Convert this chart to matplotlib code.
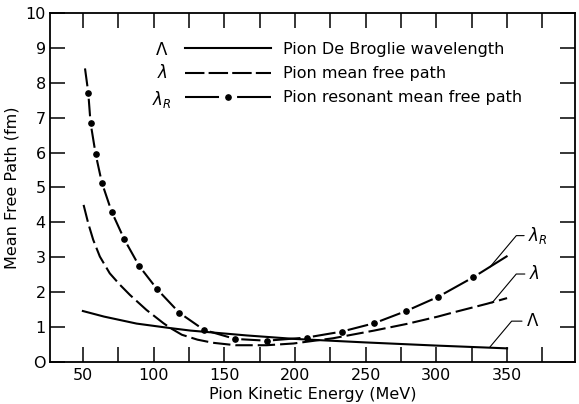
import matplotlib
matplotlib.use('Agg')
import matplotlib.pyplot as plt
from matplotlib.lines import Line2D

# values (MeV, fm)
energy_db = [50, 65, 88, 112, 126, 166, 200, 250, 300, 350]
wavelength_db = [1.46, 1.30, 1.10, 0.97, 0.90, 0.76, 0.66, 0.56, 0.47, 0.39]

energy_mfp = [50.5, 53.8, 57.3, 62, 69, 76, 83.3, 95, 107, 112, 120, 131, 142, 158, 180, 199,
              227, 256, 279, 301, 312, 336, 350]
mfp = [4.50, 3.97, 3.50, 3.02, 2.54, 2.22, 1.92, 1.49, 1.11, 0.97, 0.78, 0.64, 0.55, 0.48, 0.48, 0.53,
       0.68, 0.90, 1.09, 1.30, 1.42, 1.67, 1.83]

# resonant mfp: first and last are line ends, the rest are the dots
energy_res = [51.5, 53.8, 55.4, 59.0, 63.4, 70.3, 79.2, 89.8, 102.6, 118.2, 135.6, 157.6, 180, 208.3, 233, 256, 278.6, 301.4, 326.2, 350.3]
mfp_res = [8.41, 7.72, 6.86, 5.96, 5.14, 4.31, 3.52, 2.75, 2.08, 1.41, 0.92, 0.66, 0.61, 0.70, 0.87, 1.11, 1.46, 1.87, 2.43, 3.04]

xticks = [50, 100, 150, 200, 250, 300, 350]
yticks = list(range(0, 11))

plt.rcParams['font.family'] = 'DejaVu Sans'
plt.rcParams['lines.scale_dashes'] = False

fig = plt.figure(figsize=(5.79, 4.04), dpi=100)
ax = fig.add_axes([0.086, 0.104, 0.907, 0.864])

lw = 1.5
ax.plot(energy_db, wavelength_db, color='black', lw=lw)
ax.plot(energy_mfp, mfp, color='black', lw=lw, ls=(0, (12.5, 3.6)))

# dash-dot curve: one dash between consecutive dots
for i in range(len(energy_res) - 1):
    sa = 0 if i == 0 else 4.5
    sb = 0 if i == len(energy_res) - 2 else 4.5
    ax.annotate('', xy=(energy_res[i + 1], mfp_res[i + 1]), xytext=(energy_res[i], mfp_res[i]),
                arrowprops=dict(arrowstyle='-', lw=lw, color='black', shrinkA=sa, shrinkB=sb,
                                capstyle='butt'))
ax.plot(energy_res[1:-1], mfp_res[1:-1], ls='none', marker='o', ms=3.8, color='black')

ax.set_xlim(26.6, 398)
ax.set_ylim(0, 10)
ax.set_xticks([25 * k for k in range(2, 16)])
ax.set_xticklabels([str(25 * k) if 25 * k in xticks else '' for k in range(2, 16)])
ax.set_yticks(yticks)
ax.set_yticklabels(['O'] + [str(v) for v in yticks[1:]])
ax.tick_params(direction='in', length=10.5, width=1.1, top=True, right=True,
               labelsize=11.5, pad=4)
ax.tick_params(axis='y', pad=3)
for s in ax.spines.values():
    s.set_linewidth(1.3)

ax.set_xlabel('Pion Kinetic Energy (MeV)', fontsize=11.5, labelpad=3)
ax.set_ylabel('Mean Free Path (fm)', fontsize=11.5, labelpad=4)

# legend
handles = [
    Line2D([], [], color='black', lw=lw),
    Line2D([], [], color='black', lw=lw, ls=(0, (14, 3))),
    Line2D([], [], color='black', lw=lw, ls=(0, (24.5, 13)), marker='o', ms=3.8),
]
labels = ['Pion De Broglie wavelength', 'Pion mean free path', 'Pion resonant mean free path']
ax.legend(handles, labels, loc='upper left', bbox_to_anchor=(0.257, 0.917), frameon=False,
          fontsize=11.5, handlelength=5.4, handletextpad=0.75, labelspacing=0.58,
          borderpad=0, borderaxespad=0, numpoints=1)

symbols = [r'$\Lambda$', r'$\lambda$', r'$\lambda_R$']
sym_y = [8.93, 8.28, 7.52]
for s, yy in zip(symbols, sym_y):
    ax.text(106, yy, s, fontsize=12, ha='center', va='center')

# curve labels with leaders
notes = [(r'$\lambda_R$', (337.9, 2.72), (365, 3.62)),
         (r'$\lambda$', (339.3, 1.69), (365.5, 2.52)),
         (r'$\Lambda$', (337.9, 0.43), (363.5, 1.17))]
for s, xy, xyt in notes:
    ax.annotate(s, xy=xy, xytext=xyt, fontsize=12, ha='left', va='center',
                arrowprops=dict(arrowstyle='-', lw=0.8, color='black', relpos=(0, 0.5),
                                shrinkA=1, shrinkB=0,
                                connectionstyle='angle,angleA=0,angleB=50,rad=0'))

fig.savefig('out.png', dpi=100)
